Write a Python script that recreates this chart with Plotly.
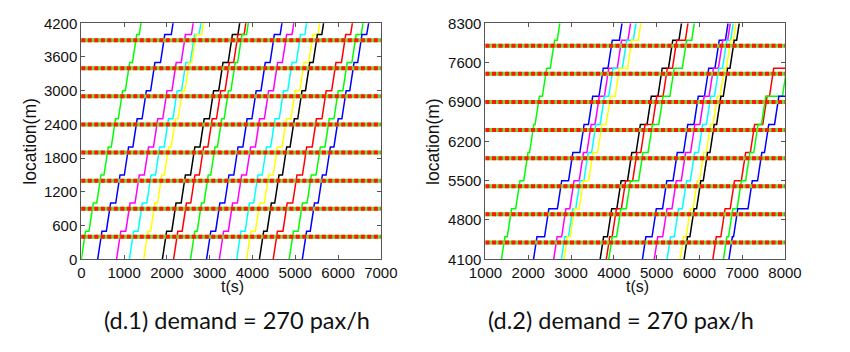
import plotly.graph_objects as go

# ---------------- data ----------------
STOPS = [400, 900, 1400, 1900, 2400, 2900, 3400, 3900, 4400, 4900, 5400, 5900, 6400, 6900, 7400, 7900]
BUS_COLORS = ["#00ff00", "#0000ff", "#ff00ff", "#00ffff", "#ffff00", "#000000", "#ff0000", "#00ff00",
              "#0000ff", "#ff00ff", "#00ffff", "#ffff00", "#000000", "#ff0000", "#00ff00", "#0000ff"]
# time (s) at which each bus passes each stop line
BUS_1 = [80, 260, 440, 610, 780, 945, 1110, 1275, 1434, 1590, 1786, 1974, 2110, 2240, 2410, 2595]
BUS_2 = [462, 665, 885, 1085, 1285, 1500, 1700, 1930, 2183, 2461, 2761, 3022, 3285, 3486, 3733, 3943]
BUS_3 = [903, 1119, 1335, 1551, 1767, 1983, 2198, 2414, 2654, 2860, 3050, 3270, 3450, 3640, 3860, 4160]
BUS_4 = [1203, 1406, 1610, 1813, 2017, 2220, 2423, 2627, 2834, 3020, 3190, 3380, 3560, 3760, 3960, 4280]
BUS_5 = [1540, 1700, 1860, 2020, 2180, 2340, 2500, 2660, 2894, 3060, 3270, 3490, 3700, 3900, 4110, 4400]
BUS_6 = [1974, 2194, 2413, 2633, 2852, 3072, 3291, 3511, 3740, 3930, 4150, 4400, 4600, 4856, 5110, 5357]
BUS_7 = [2236, 2437, 2637, 2838, 3038, 3239, 3439, 3640, 3884, 4040, 4256, 4520, 4710, 4983, 5230, 5450]
BUS_8 = [2632, 2789, 2947, 3104, 3261, 3419, 3576, 3733, 3942, 4144, 4369, 4660, 4880, 5130, 5390, 5680]
BUS_9 = [3007, 3219, 3431, 3643, 3855, 4067, 4279, 4491, 4728, 4973, 5218, 5463, 5708, 5953, 6198, 6443]
BUS_10 = [3306, 3516, 3727, 3937, 4147, 4358, 4568, 4778, 5005, 5222, 5439, 5656, 5873, 6090, 6307, 6524]
BUS_11 = [3710, 3909, 4108, 4307, 4506, 4705, 4904, 5103, 5304, 5492, 5680, 5868, 6056, 6244, 6432, 6620]
BUS_12 = [3942, 4149, 4357, 4564, 4772, 4979, 5186, 5394, 5611, 5770, 5930, 6080, 6240, 6400, 6560, 6710]
BUS_13 = [4242, 4421, 4600, 4780, 4959, 5138, 5318, 5497, 5701, 5857, 6013, 6170, 6326, 6482, 6638, 6794]
BUS_14 = [4564, 4792, 5020, 5248, 5475, 5703, 5931, 6159, 6374, 6580, 6800, 7060, 7270, 7560, 7717, 8150]
BUS_15 = [4938, 5147, 5356, 5566, 5775, 5984, 6193, 6403, 6621, 6760, 6960, 7160, 7350, 7530, 8020, 8240]
BUS_16 = [5245, 5430, 5615, 5800, 5984, 6169, 6354, 6539, 6749, 6877, 7215, 7439, 7600, 7836, 8100, 8320]
# time (s) at which each bus passes 8300 m
BUS_EXIT = [2737, 4190, 4390, 4515, 4630, 5581, 5731, 5880, 6668, 6721, 6788, 6853, 6930, 8350, 8450, 8540]
BUS_PASS = [BUS_1, BUS_2, BUS_3, BUS_4, BUS_5, BUS_6, BUS_7, BUS_8,
            BUS_9, BUS_10, BUS_11, BUS_12, BUS_13, BUS_14, BUS_15, BUS_16]

PLATEAU_OFFSET = 100      # bus holds 100 m past each stop line
RUN_SPEED = 5.0           # m/s while moving
TOP_LOCATION = 8300

X1_RANGE = [0, 7000]
Y1_RANGE = [0, 4200]
X2_RANGE = [1000, 8000]
Y2_RANGE = [4100, 8300]
X1_TICKS = [0, 1000, 2000, 3000, 4000, 5000, 6000, 7000]
X2_TICKS = [1000, 2000, 3000, 4000, 5000, 6000, 7000, 8000]
Y1_TICKS = [0, 600, 1200, 1800, 2400, 3000, 3600, 4200]
Y2_TICKS = [4100, 4800, 5500, 6200, 6900, 7600, 8300]
CAPTIONS = ["(d.1) demand = 270 pax/h", "(d.2) demand = 270 pax/h"]


def trajectory(passes, exit_t):
    pre = PLATEAU_OFFSET / RUN_SPEED
    xs = [passes[0] - STOPS[0] / RUN_SPEED]
    ys = [0]
    for k, stop in enumerate(STOPS):
        plateau = stop + PLATEAU_OFFSET
        xs.append(passes[k] + pre); ys.append(plateau)
        if k + 1 < len(STOPS):
            dep = passes[k + 1] - (STOPS[k + 1] - plateau) / RUN_SPEED
        else:
            dep = exit_t - (TOP_LOCATION - plateau) / RUN_SPEED
        xs.append(dep); ys.append(plateau)
    xs.append(exit_t); ys.append(TOP_LOCATION)
    return xs, ys


fig = go.Figure()
for col, passes, exit_t in zip(BUS_COLORS, BUS_PASS, BUS_EXIT):
    xs, ys = trajectory(passes, exit_t)
    for xa, ya in (("x", "y"), ("x2", "y2")):
        fig.add_trace(go.Scatter(x=xs, y=ys, mode="lines", xaxis=xa, yaxis=ya,
                                 line=dict(color=col, width=1.5), showlegend=False,
                                 hoverinfo="skip"))

shapes = []
for xref, yref, yr in (("x domain", "y", Y1_RANGE), ("x2 domain", "y2", Y2_RANGE)):
    for s in STOPS:
        if yr[0] < s < yr[1]:
            shapes.append(dict(type="line", xref=xref, yref=yref, x0=0, x1=1, y0=s, y1=s,
                               line=dict(color="#7cd63a", width=4), layer="above"))
            shapes.append(dict(type="line", xref=xref, yref=yref, x0=0, x1=1, y0=s, y1=s,
                               line=dict(color="#ff1a00", width=4, dash="4px,2.5px"), layer="above"))

TICK_FONT = dict(family="Liberation Sans, Arial", size=15, color="#111")
axis_common = dict(showline=True, linecolor="#555555", linewidth=1, mirror="ticks",
                   ticks="inside", ticklen=4, tickcolor="#555555", showgrid=False,
                   zeroline=False, tickfont=TICK_FONT)

W, H = 850, 352
fig.update_layout(
    width=W, height=H, margin=dict(l=0, r=0, t=0, b=0),
    paper_bgcolor="white", plot_bgcolor="white", showlegend=False,
    xaxis=dict(domain=[67 / W, 379 / W], range=X1_RANGE, tickvals=X1_TICKS, anchor="y", **axis_common),
    yaxis=dict(domain=[1 - 263 / H, 1 - 15 / H], range=Y1_RANGE, tickvals=Y1_TICKS, anchor="x", **axis_common),
    xaxis2=dict(domain=[488 / W, 800 / W], range=X2_RANGE, tickvals=X2_TICKS, anchor="y2", **axis_common),
    yaxis2=dict(domain=[1 - 263 / H, 1 - 15 / H], range=Y2_RANGE, tickvals=Y2_TICKS, anchor="x2", **axis_common),
    shapes=shapes,
)

ann = []
for cx, cap in zip((229 / W, 629 / W), CAPTIONS):
    ann.append(dict(text=cap, x=cx, y=1 - 327 / H, xref="paper", yref="paper", showarrow=False,
                    xanchor="center", yanchor="middle", font=dict(family="Lato", size=23.5, color="#111")))
for cx in (224 / W, 646 / W):
    ann.append(dict(text="t(s)", x=cx, y=1 - 292 / H, xref="paper", yref="paper", showarrow=False,
                    xanchor="center", yanchor="middle",
                    font=dict(family="Liberation Sans, Arial", size=16, color="#111")))
for cx in (14 / W, 434 / W):
    ann.append(dict(text="location(m)", x=cx, y=1 - 139 / H, xref="paper", yref="paper", showarrow=False,
                    textangle=-90, xanchor="center", yanchor="middle",
                    font=dict(family="Liberation Sans, Arial", size=17.5, color="#111")))
fig.update_layout(annotations=ann)

fig.write_html("out.html")
